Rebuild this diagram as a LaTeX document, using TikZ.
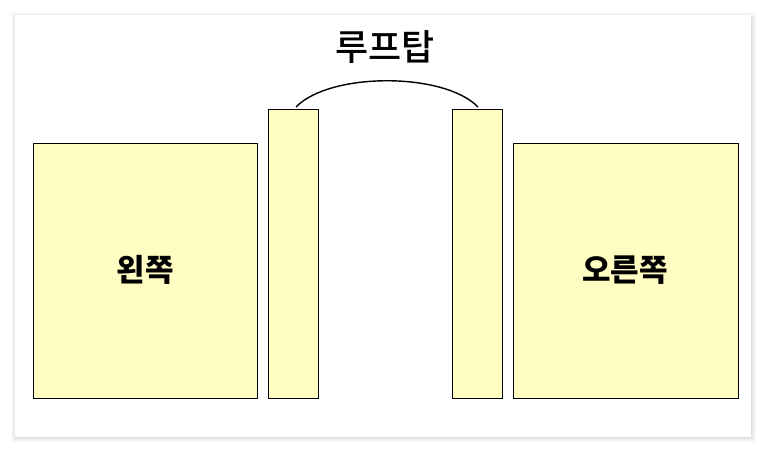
\documentclass[tikz,border=0pt]{standalone}
\usepackage{fontspec}
\setmainfont{Noto Sans CJK KR}
\newfontfamily\titlefont{Noto Sans CJK KR Medium}
\begin{document}
\begin{tikzpicture}[x=1pt,y=-1pt,
  blk/.style={draw=black,line width=1pt,fill=yellowfill},
  lbl/.style={font=\fontsize{31}{36}\selectfont\bfseries},
  ttl/.style={font=\fontsize{36}{42}\selectfont\titlefont}]
\definecolor{yellowfill}{HTML}{FFFDC2}
\useasboundingbox (0,0) rectangle (766,452);
\fill[white] (0,0) rectangle (766,452);
% card shadow
\foreach \d/\c in {5/2,4/4,3/6,2/9,1/13}{
  \fill[black!\c,rounded corners=2pt] (15-\d+1,15-\d+2) rectangle (751+\d,437+\d);
}
\fill[white] (15,15) rectangle (751,437);
% blocks
\draw[blk] (33,143) rectangle (257,398);
\node[lbl] (left) at (145,270) {왼쪽};
\draw[blk] (268,109) rectangle (318,398);
\coordinate (pl) at (296,107);
\draw[blk] (452,109) rectangle (502,398);
\coordinate (pr) at (478,107);
\draw[blk] (513,143) rectangle (738,398);
\node[lbl] (right) at (625,270) {오른쪽};
\node[ttl] (roof) at (385,47) {루프탑};
\draw[line width=1.4pt] (pl) .. controls (330,72) and (444,72) .. (pr);
\end{tikzpicture}
\end{document}
